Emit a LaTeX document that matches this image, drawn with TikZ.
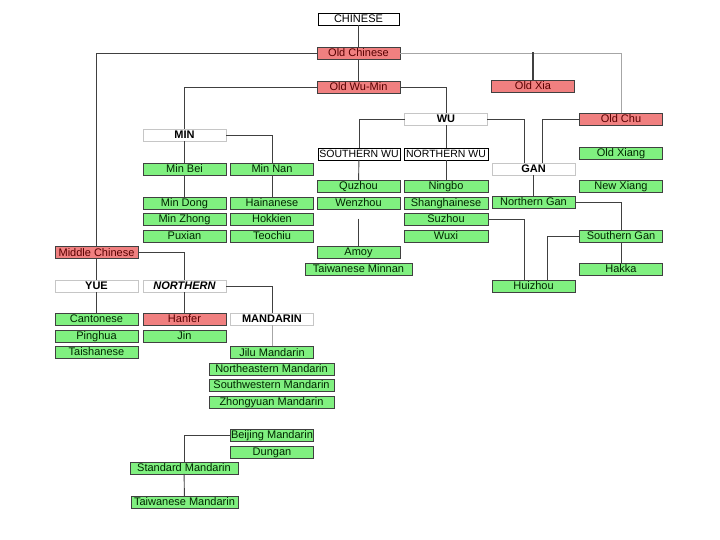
\documentclass[tikz,border=0pt]{standalone}
\usepackage{fontspec}
\setmainfont{Liberation Sans}
\definecolor{BoxRed}{HTML}{F08080}
\definecolor{BoxGreen}{HTML}{80F080}
\definecolor{LinkGray}{HTML}{404040}

\begin{document}
\begin{tikzpicture}[x=1pt,y=-1pt,line cap=rect,
  box/.style={draw=LinkGray,line width=0.8pt,minimum width=83pt,minimum height=12pt,
    inner sep=0pt,text height=7.6pt,text depth=0pt,font=\fontsize{11}{12}\selectfont},
  redbox/.style={box,fill=BoxRed,text=red!35!black},
  greenbox/.style={box,fill=BoxGreen,text=green!15!black},
  headbox/.style={box,fill=white,draw=gray!45,font=\fontsize{11}{12}\selectfont\bfseries},
  plainbox/.style={box,fill=white,draw=black},
  link/.style={draw=LinkGray,line width=0.9pt},
  faintlink/.style={draw=gray!70,line width=0.6pt}]
  \useasboundingbox (0,0) rectangle (720,540);

  % top levels
  \node[plainbox,minimum width=81pt] (chinese) at (358.5,19) {CHINESE};
  \node[redbox] (oldch) at (358.5,53) {Old Chinese};
  \node[redbox] (oldwumin) at (358.5,87) {Old Wu-Min};
  \node[redbox] (oldxia) at (533,86) {Old Xia};
  \node[redbox] (oldchu) at (621,119) {Old Chu};

  % Xiang and Gan
  \node[greenbox] (oldxiang) at (621,153) {Old Xiang};
  \node[greenbox] (newxiang) at (621,186) {New Xiang};
  \node[headbox] (gan) at (533.5,169) {GAN};
  \node[greenbox] (ngan) at (533.5,202) {Northern Gan};
  \node[greenbox] (sgan) at (621,236) {Southern Gan};
  \node[greenbox] (hakka) at (621,269) {Hakka};
  \node[greenbox] (huizhou) at (533.5,286) {Huizhou};

  % Wu
  \node[headbox] (wu) at (446,119) {WU};
  \node[plainbox,minimum width=82pt,font=\fontsize{10.5}{12}\selectfont] (swu) at (359,154) {SOUTHERN WU};
  \node[plainbox,minimum width=84pt,font=\fontsize{10.5}{12}\selectfont] (nwu) at (446,154) {NORTHERN WU};
  \node[greenbox] (quzhou) at (358.5,186) {Quzhou};
  \node[greenbox] (wenzhou) at (358.5,203) {Wenzhou};
  \node[greenbox,minimum width=84pt] (ningbo) at (446,186) {Ningbo};
  \node[greenbox,minimum width=84pt] (shanghai) at (446,203) {Shanghainese};
  \node[greenbox,minimum width=84pt] (suzhou) at (446,219) {Suzhou};
  \node[greenbox,minimum width=84pt] (wuxi) at (446,236) {Wuxi};
  \node[greenbox] (amoy) at (358.5,252) {Amoy};
  \node[greenbox,minimum width=107pt] (twminnan) at (358.5,269) {Taiwanese Minnan};

  % Min
  \node[headbox] (min) at (184.5,135) {MIN};
  \node[greenbox] (minbei) at (184.5,169) {Min Bei};
  \node[greenbox] (minnan) at (272,169) {Min Nan};
  \node[greenbox] (mindong) at (184.5,203) {Min Dong};
  \node[greenbox] (minzhong) at (184.5,219) {Min Zhong};
  \node[greenbox] (puxian) at (184.5,236) {Puxian};
  \node[greenbox] (hainan) at (272,203) {Hainanese};
  \node[greenbox] (hokkien) at (272,219) {Hokkien};
  \node[greenbox] (teochiu) at (272,236) {Teochiu};

  % Middle Chinese, Yue and Northern
  \node[redbox] (midch) at (96.5,252.5) {Middle Chinese};
  \node[headbox] (yue) at (96.5,286) {YUE};
  \node[headbox,font=\fontsize{11}{12}\selectfont\bfseries\itshape] (north) at (184.5,286) {NORTHERN};
  \node[greenbox] (canton) at (96.5,319) {Cantonese};
  \node[greenbox] (pinghua) at (96.5,336) {Pinghua};
  \node[greenbox] (taishan) at (96.5,352) {Taishanese};
  \node[redbox] (hanfer) at (184.5,319) {Hanfer};
  \node[greenbox] (jin) at (184.5,336) {Jin};

  % Mandarin
  \node[headbox] (mand) at (272,319) {MANDARIN};
  \node[greenbox] (jilu) at (272,352.5) {Jilu Mandarin};
  \node[greenbox,minimum width=125pt] (nemand) at (271.5,369) {Northeastern Mandarin};
  \node[greenbox,minimum width=125pt] (swmand) at (271.5,385) {Southwestern Mandarin};
  \node[greenbox,minimum width=125pt] (zymand) at (271.5,402) {Zhongyuan Mandarin};
  \node[greenbox] (beijing) at (272,435) {Beijing Mandarin};
  \node[greenbox] (dungan) at (272,452) {Dungan};
  \node[greenbox,minimum width=108pt] (stdmand) at (184,468) {Standard Mandarin};
  \node[greenbox,minimum width=107pt] (twmand) at (184.5,502) {Taiwanese Mandarin};

  % connectors
  \draw[link] (chinese) -- (oldch) (oldch) -- (oldwumin);
  \draw[link] (oldch.west) -| (midch.north);
  \draw[faintlink] (oldch.east) -| (oldchu.north);
  \draw[link,line width=2pt] (oldxia.north |- oldch.east) -- (oldxia.north);
  \draw[link] (oldwumin.west) -| (min.north);
  \draw[link] (oldwumin.east) -| (wu.north);
  \draw[link] (wu.west) -| (swu.north);
  \draw[link] (wu) -- (nwu);
  \draw[link] (wu.east) -| ([xshift=-9.5pt]gan.north);
  \draw[link] (oldchu.west) -| ([xshift=8.5pt]gan.north);
  \draw[link] (gan) -- (ngan);
  \draw[link] (ngan.east) -| (sgan.north);
  \draw[link] (sgan) -- (hakka);
  \draw[link] (sgan.west) -| ([xshift=13.5pt]huizhou.north);
  \draw[link] (suzhou.east) -| ([xshift=-9.5pt]huizhou.north);
  \draw[link] (swu) -- (quzhou);
  \draw[link] (nwu) -- (ningbo);
  \draw[link] (amoy.north) -- (amoy.north |- hokkien);
  \draw[link] (min) -- (minbei) (minbei) -- (mindong);
  \draw[link] (min.east) -| (minnan.north);
  \draw[link] (minnan) -- (hainan);
  \draw[link] (midch) -- (yue) (yue) -- (canton);
  \draw[link] (midch.east) -| (north.north);
  \draw[link] (north) -- (hanfer);
  \draw[link] (north.east) -| (mand.north);
  \draw[faintlink] (mand) -- (jilu);
  \draw[link] (beijing.west) -| (stdmand.north);
  \draw[link] (stdmand) -- (twmand);
\end{tikzpicture}
\end{document}
